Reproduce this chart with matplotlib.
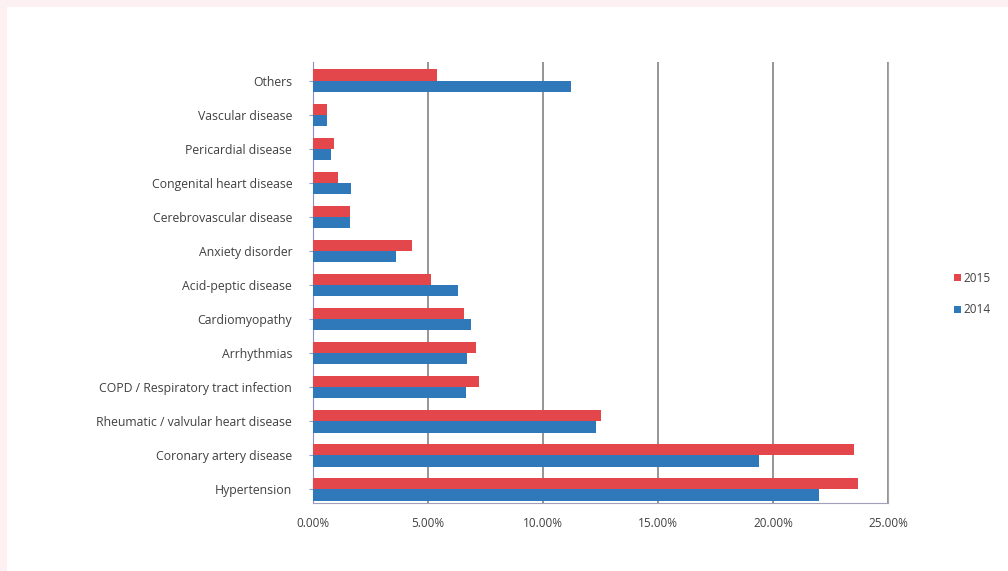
import matplotlib.pyplot as plt
from matplotlib.patches import Rectangle
from matplotlib.ticker import FuncFormatter
import numpy as np

categories = ['Hypertension', 'Coronary artery disease', 'Rheumatic / valvular heart disease',
              'COPD / Respiratory tract infection', 'Arrhythmias', 'Cardiomyopathy',
              'Acid-peptic disease', 'Anxiety disorder', 'Cerebrovascular disease',
              'Congenital heart disease', 'Pericardial disease', 'Vascular disease', 'Others']
share_2015 = [23.7, 23.5, 12.5, 7.2, 7.1, 6.55, 5.15, 4.3, 1.6, 1.1, 0.9, 0.6, 5.4]
share_2014 = [22.0, 19.4, 12.3, 6.65, 6.7, 6.85, 6.3, 3.6, 1.6, 1.65, 0.8, 0.6, 11.2]

red = '#e3464b'
blue = '#2f78ba'
text_col = '#404040'

plt.rcParams['font.family'] = ['Open Sans', 'DejaVu Sans']

fig = plt.figure(figsize=(10.08, 5.71), dpi=100)
fig.patch.set_facecolor('#fcf0f3')
# white chart area inside the thin pink border
fig.add_artist(Rectangle((7 / 1008, 0), 1, 1 - 7 / 571, transform=fig.transFigure,
                         facecolor='white', edgecolor='none', zorder=-5))

ax = fig.add_axes([313 / 1008, 1 - 503 / 571, 575 / 1008, 441 / 571])
ax.set_facecolor('none')

y = np.arange(len(categories))
h = 0.33
ax.barh(y + h / 2, share_2015, height=h, color=red, label='2015', zorder=3)
ax.barh(y - h / 2, share_2014, height=h, color=blue, label='2014', zorder=3)

ax.set_xlim(0, 25)
ax.set_ylim(-0.4, 12.55)
ax.set_xticks(np.arange(0, 26, 5))
ax.xaxis.set_major_formatter(FuncFormatter(lambda v, p: f'{v:.2f}%'))
ax.set_yticks(y)
ax.set_yticklabels(categories)
ax.tick_params(axis='x', length=0, pad=10, labelsize=8.5, labelcolor=text_col)
ax.tick_params(axis='y', length=3, pad=12, labelsize=8.8, labelcolor=text_col, color='#a0a0c0')
ax.grid(axis='x', color='#8c8c8c', linewidth=1.3, zorder=1)

ax.spines['top'].set_visible(False)
ax.spines['right'].set_color('#a6a6a6')
ax.spines['bottom'].set_color('#a0a0b8')
ax.spines['left'].set_color('#8c8cc8')

handles, labels = ax.get_legend_handles_labels()
fig.legend(handles, labels, loc='center left', bbox_to_anchor=(943 / 1008, 1 - 294 / 571),
           frameon=False, fontsize=8.5, handlelength=0.6, handleheight=0.6,
           handletextpad=0.2, labelspacing=1.6, labelcolor=text_col)

fig.savefig('out.png', dpi=100)
